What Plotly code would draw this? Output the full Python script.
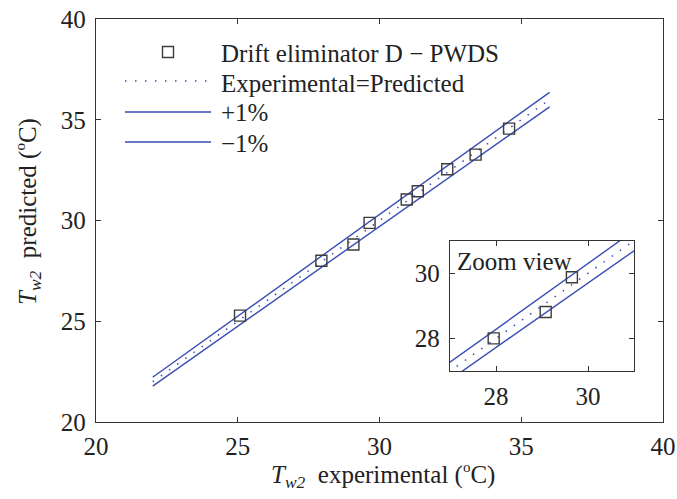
import plotly.graph_objects as go

# Outlet water temperature, experimental vs predicted (°C)
t_exp = [25.08, 27.95, 29.08, 29.65, 30.96, 31.35, 32.39, 33.39, 34.57]
t_pred = [25.28, 28.00, 28.81, 29.88, 31.04, 31.45, 32.54, 33.27, 34.56]

# Span of the parity line and the ±% error bands
ref_x = [22, 36]
band_pct = [1, -1]

series_names = ["Drift eliminator D \u2212 PWDS", "Experimental=Predicted", "+1%", "\u22121%"]
main_ticks = [20, 25, 30, 35, 40]
zoom_ticks = [28, 30]
zoom_range = [27, 31]

# ---- styling -------------------------------------------------------------
W, H = 677, 499
ML, MR, MT, MB = 96, 14, 19, 77
PW, PH = W - ML - MR, H - MT - MB
FONT = "Liberation Serif"
FS = 25
TXT = "#222222"
BLUE = "#3a4db2"
GRAY = "#3c3c3c"
AXC = "#333333"
DOT = "1.5px,8.5px"
DEG = "<sup><span style='font-size:15px'>o</span></sup>"


def fx(xpix):
    return (xpix - ML) / PW


def fy(ypix):
    return (H - MB - ypix) / PH


# points that fall inside the zoom window
zx, zy = zip(*[(a, b) for a, b in zip(t_exp, t_pred)
               if zoom_range[0] <= a <= zoom_range[1] and zoom_range[0] <= b <= zoom_range[1]])

fig = go.Figure()

for xa, ya, px_, py_ in [("x", "y", t_exp, t_pred), ("x2", "y2", list(zx), list(zy))]:
    fig.add_trace(go.Scatter(
        x=ref_x, y=ref_x, mode="lines", xaxis=xa, yaxis=ya,
        line=dict(color=BLUE, width=1.5, dash=DOT),
        name=series_names[1], showlegend=False))
    for i, p in enumerate(band_pct):
        fig.add_trace(go.Scatter(
            x=ref_x, y=[v * (1 + p / 100) for v in ref_x], mode="lines",
            xaxis=xa, yaxis=ya, line=dict(color=BLUE, width=1.4),
            name=series_names[2 + i], showlegend=False))
    fig.add_trace(go.Scatter(
        x=px_, y=py_, mode="markers", xaxis=xa, yaxis=ya,
        marker=dict(symbol="square-open", size=11, color=GRAY,
                    line=dict(width=1.4, color=GRAY)),
        name=series_names[0], showlegend=False))

axis_common = dict(
    showline=True, linecolor=AXC, linewidth=1.3, mirror="ticks",
    ticks="inside", ticklen=5, tickwidth=1, tickcolor=AXC,
    showgrid=False, zeroline=False, automargin=False,
    tickfont=dict(family=FONT, size=FS, color=TXT),
)

fig.update_layout(
    width=W, height=H,
    margin=dict(l=ML, r=MR, t=MT, b=MB, autoexpand=False),
    paper_bgcolor="white", plot_bgcolor="white",
    font=dict(family=FONT, size=FS, color=TXT),
    showlegend=False,
    xaxis=dict(range=[20, 40], tickvals=main_ticks, ticklabelstandoff=2, **axis_common),
    yaxis=dict(range=[20, 40], tickvals=main_ticks, ticklabelstandoff=4, **axis_common),
    xaxis2=dict(range=zoom_range, tickvals=zoom_ticks, domain=[fx(450), fx(634)],
                anchor="y2", ticklabelstandoff=3, **axis_common),
    yaxis2=dict(range=zoom_range, tickvals=zoom_ticks, domain=[fy(371), fy(240.7)],
                anchor="x2", ticklabelstandoff=4, **axis_common),
)

# Legend key drawn by hand so the line samples are long like the original figure
shapes = []
shapes.append(dict(type="rect", xref="paper", yref="paper",
                   x0=fx(162.5), x1=fx(173.5), y0=fy(57.5), y1=fy(46.5),
                   line=dict(color=GRAY, width=1.4), fillcolor="rgba(0,0,0,0)"))
shapes.append(dict(type="line", xref="paper", yref="paper",
                   x0=fx(125), x1=fx(211), y0=fy(81), y1=fy(81),
                   line=dict(color=BLUE, width=1.5, dash=DOT)))
for yy in (112, 142):
    shapes.append(dict(type="line", xref="paper", yref="paper",
                       x0=fx(125), x1=fx(211), y0=fy(yy), y1=fy(yy),
                       line=dict(color=BLUE, width=1.4)))
fig.update_layout(shapes=shapes)

annotations = []
for name, yy in zip(series_names, (53, 83, 113, 143)):
    annotations.append(dict(text=name, xref="paper", yref="paper",
                            x=fx(219), y=fy(yy), xanchor="left", yanchor="middle",
                            showarrow=False, font=dict(family=FONT, size=FS, color=TXT)))

annotations.append(dict(text="Zoom view", xref="paper", yref="paper",
                        x=fx(455), y=fy(261), xanchor="left", yanchor="middle",
                        showarrow=False, font=dict(family=FONT, size=FS, color=TXT)))

annotations.append(dict(
    text="<i>T</i><sub><i>w2</i></sub>&nbsp;&nbsp;experimental (" + DEG + "C)",
    xref="paper", yref="paper", x=fx(383), y=fy(475), xanchor="center", yanchor="middle",
    showarrow=False, font=dict(family=FONT, size=FS, color=TXT)))
annotations.append(dict(
    text="<i>T</i><sub><i>w2</i></sub>&nbsp;&nbsp;predicted (" + DEG + "C)",
    xref="paper", yref="paper", x=fx(28), y=fy(212), xanchor="center", yanchor="middle",
    textangle=-90, showarrow=False, font=dict(family=FONT, size=FS, color=TXT)))
fig.update_layout(annotations=annotations)

fig.write_html("out.html")
